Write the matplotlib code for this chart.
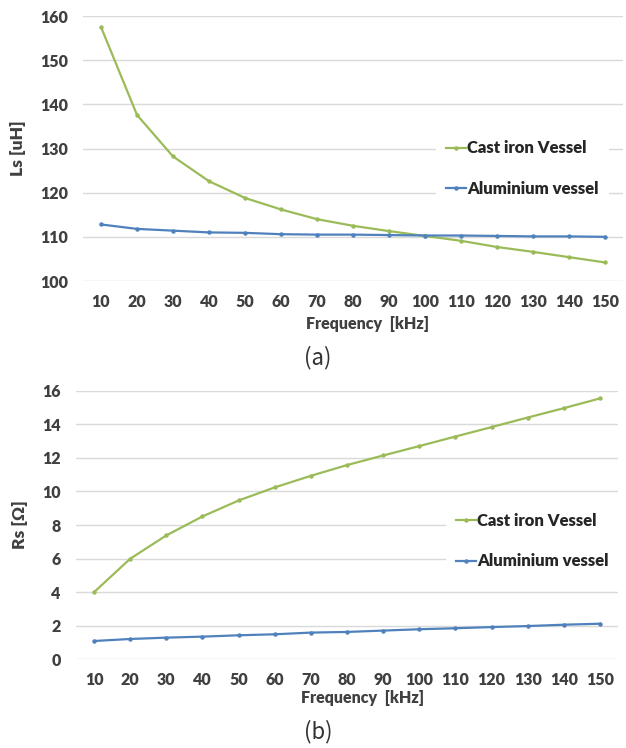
import matplotlib
matplotlib.use("Agg")
import matplotlib.pyplot as plt

freq = [10, 20, 30, 40, 50, 60, 70, 80, 90, 100, 110, 120, 130, 140, 150]
ls_cast_iron = [157.5, 137.6, 128.2, 122.6, 118.8, 116.2, 114.0, 112.5, 111.3, 110.2, 109.1, 107.7, 106.6, 105.4, 104.2]
ls_aluminium = [112.8, 111.8, 111.4, 111.0, 110.9, 110.6, 110.5, 110.5, 110.4, 110.3, 110.3, 110.2, 110.1, 110.1, 110.0]
rs_cast_iron = [4.0, 5.99, 7.38, 8.51, 9.46, 10.24, 10.93, 11.57, 12.14, 12.70, 13.27, 13.83, 14.40, 14.96, 15.54]
rs_aluminium = [1.09, 1.21, 1.29, 1.35, 1.43, 1.49, 1.59, 1.63, 1.71, 1.79, 1.85, 1.92, 1.98, 2.06, 2.12]
series_names = ["Cast iron Vessel", "Aluminium vessel"]

GREEN = "#9BBB59"
BLUE = "#4F81BD"
TXT = "#404040"
GRID = "#D9D9D9"
W, H = 626, 748
FONT = "Lato"
WT = "heavy"

fig = plt.figure(figsize=(W / 100, H / 100), dpi=100)


def px_axes(left, top, right, bottom):
    return fig.add_axes([left / W, 1 - bottom / H, (right - left) / W, (bottom - top) / H])


def style(ax, yticks, ylabel):
    pos = list(range(len(freq)))
    ax.set_xlim(-0.5, len(freq) - 0.5)
    ax.set_xticks(pos)
    ax.set_xticklabels([str(f) for f in freq])
    ax.set_yticks(yticks)
    ax.set_ylim(yticks[0], yticks[-1])
    for s in ax.spines.values():
        s.set_visible(False)
    ax.grid(axis="y", color=GRID, linewidth=1)
    ax.set_axisbelow(True)
    ax.tick_params(length=0, labelsize=11.5, labelcolor=TXT)
    ax.tick_params(axis="x", pad=9)
    ax.tick_params(axis="y", pad=11)
    for lab in ax.get_xticklabels() + ax.get_yticklabels():
        lab.set_fontfamily(FONT)
        lab.set_fontweight(WT)
    ax.set_ylabel(ylabel, fontsize=12.5, fontweight=WT, color=TXT, family=FONT, labelpad=10)


def draw(ax, cast, alu):
    pos = list(range(len(freq)))
    l1, = ax.plot(pos, cast, color=GREEN, lw=1.6, marker="o", ms=2.2, label=series_names[0])
    l2, = ax.plot(pos, alu, color=BLUE, lw=1.6, marker="o", ms=2.2, label=series_names[1])
    return l1, l2


def legend(ax, x, y):
    leg = ax.legend(loc="upper left", bbox_to_anchor=(x / W, 1 - y / H), bbox_transform=fig.transFigure,
                    frameon=True, facecolor="white", edgecolor="none", framealpha=1, fancybox=False,
                    handlelength=1.2, handletextpad=0.05, labelspacing=1.45, borderpad=0.6,
                    prop={"family": FONT, "weight": WT, "size": 12})
    for t in leg.get_texts():
        t.set_color("#262626")
    return leg


# (a) top
ax1 = px_axes(83, 16, 623, 281)
draw(ax1, ls_cast_iron, ls_aluminium)
style(ax1, [100, 110, 120, 130, 140, 150, 160], "Ls [uH]")
legend(ax1, 428, 122)
fig.text(368 / W, 1 - 324 / H, "Frequency  [kHz]", ha="center", va="center", fontsize=11.5,
         fontweight=WT, color=TXT, family=FONT)
fig.text(318 / W, 1 - 358 / H, "(a)", ha="center", va="center", fontsize=16,
         color="#333333", family="Noto Sans CJK JP")

# (b) bottom
ax2 = px_axes(76, 390.7, 618, 659.3)
draw(ax2, rs_cast_iron, rs_aluminium)
style(ax2, [0, 2, 4, 6, 8, 10, 12, 14, 16], "Rs [Ω]")
legend(ax2, 438, 495)
fig.text(363 / W, 1 - 698 / H, "Frequency  [kHz]", ha="center", va="center", fontsize=11.5,
         fontweight=WT, color=TXT, family=FONT)
fig.text(318 / W, 1 - 732 / H, "(b)", ha="center", va="center", fontsize=16,
         color="#333333", family="Noto Sans CJK JP")

fig.savefig("out.png", dpi=100, facecolor="white")
